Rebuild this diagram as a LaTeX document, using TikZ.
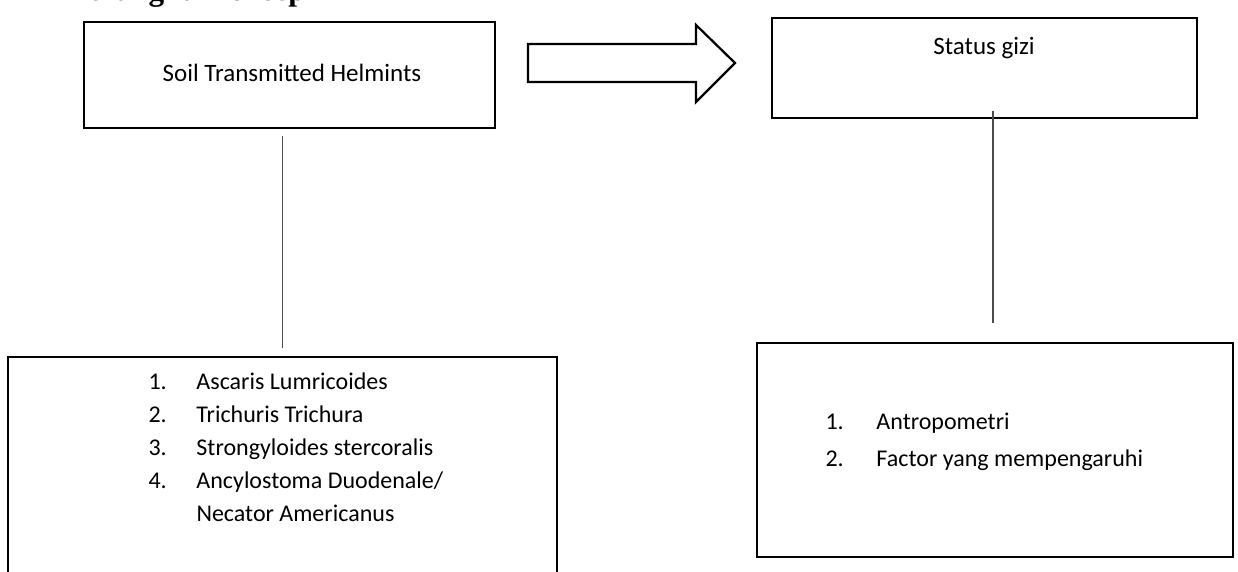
\documentclass[tikz,border=0pt]{standalone}
\usepackage{fontspec}
\setmainfont{Carlito}
\newfontfamily\headfont{Liberation Serif}
\usetikzlibrary{fit}

\begin{document}
\begin{tikzpicture}[x=0.4pt, y=-0.4pt,
      box/.style = {rectangle, draw, line width=0.9pt, inner sep=0pt},
      link/.style = {draw=black!70, line width=0.55pt},
      every node/.style = {font=\fontsize{9.6}{13.2}\selectfont}]
  \useasboundingbox (0,0) rectangle (1238,572);
  \clip (0,0) rectangle (1238,572);
  % heading, cut off at the top of the page
  \node[anchor=base west, inner sep=0pt,
        font=\headfont\bfseries\fontsize{12.5}{15}\selectfont] (judul) at (63,1) {Kerangka Konsep};
  % boxes
  \node[box, fit={(84,22) (495,128)}] (sth) {};
  \node[box, fit={(772,18) (1197,118)}] (gizi) {};
  \node[box, fit={(8,357) (557,620)}] (cacing) {};
  \node[box, fit={(757,343) (1233,557)}] (faktor) {};
  % texts
  \node[inner sep=0pt, font=\fontsize{10}{12}\selectfont] (tsth) at (292,73) {Soil Transmitted Helmints};
  \node[inner sep=0pt, font=\fontsize{10}{12}\selectfont] (tgizi) at (984,48) {Status gizi};
  \node[anchor=base west, inner sep=0pt] (tcacing) at (148,389)
    {\begin{tabular}[t]{@{}p{19.2pt}@{}l@{}}
      1. & Ascaris Lumricoides\\
      2. & Trichuris Trichura\\
      3. & Strongyloides stercoralis\\
      4. & Ancylostoma Duodenale/\\
         & Necator Americanus
    \end{tabular}};
  \node[anchor=base west, inner sep=0pt, font=\fontsize{9.6}{14.8}\selectfont] (tfaktor) at (825,429)
    {\begin{tabular}[t]{@{}p{20.4pt}@{}l@{}}
      1. & Antropometri\\
      2. & Factor yang mempengaruhi
    \end{tabular}};
  % block arrow
  \draw[line width=0.9pt] (528,44) -- (696,44) -- (696,25) -- (735,63)
    -- (696,102) -- (696,82) -- (528,82) -- cycle;
  % connectors
  \draw[link, shorten <=2.8pt, shorten >=3.2pt] (sth.south -| cacing.north) -- (cacing.north);
  \draw[link, shorten <=-3.2pt, shorten >=7.6pt] ([xshift=-0.8pt]gizi.south -| faktor.north) -- ([xshift=-0.8pt]faktor.north);
\end{tikzpicture}
\end{document}
